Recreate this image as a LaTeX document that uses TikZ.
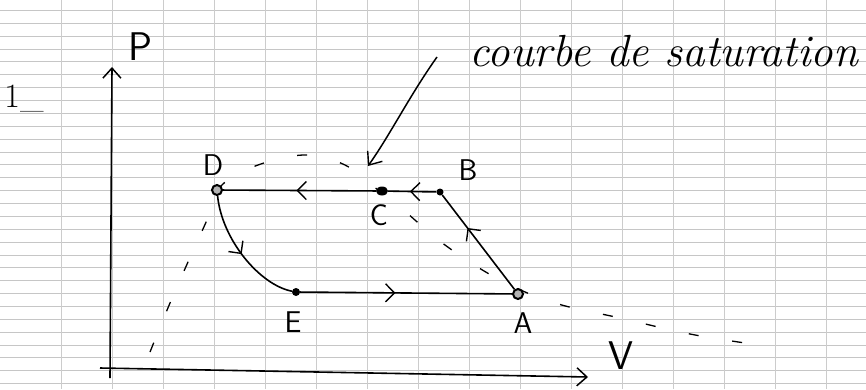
\documentclass[tikz,border=0pt]{standalone}
\usetikzlibrary{arrows.meta,decorations.markings,shapes.geometric}
\begin{document}
\begin{tikzpicture}[x=1pt,y=-1pt,
  gridv/.style={gray!40,line width=0.8pt},
  gridh/.style={gray!45,line width=1pt},
  axis/.style={line width=1.6pt,-{Straight Barb[length=10pt,width=18pt,line width=1.5pt]}},
  cyc/.style={line width=1.6pt},
  midarrow/.style={postaction=decorate,decoration={markings,mark=at position #1 with {\arrow{Straight Barb[length=9pt,width=18pt,line width=1.4pt]}}}},
  sat/.style={line width=1.3pt,dash pattern=on 10pt off 34pt},
  annarrow/.style={line width=1.5pt,-{Straight Barb[length=11pt,width=18pt,line width=1.4pt]}},
  ptsmall/.style={circle,fill=black,inner sep=0pt,minimum size=7pt},
  ptring/.style={circle,draw=black,fill=gray!60,line width=2pt,inner sep=0pt,minimum size=10pt},
  ptbig/.style={ellipse,fill=black,inner sep=0pt,minimum width=12pt,minimum height=9pt},
  lab/.style={font=\fontsize{30}{30}\selectfont\sffamily},
  axlab/.style={font=\fontsize{40}{40}\selectfont\sffamily},
]
\useasboundingbox (0,0) rectangle (866,389);
\fill[white] (0,0) rectangle (866,389);
% graph paper
\foreach \k in {0,...,29} \draw[gridh] (0,{10.5+12.87*\k}) -- (866,{10.5+12.87*\k});
\foreach \k in {0,...,15} \draw[gridv] ({61+51*\k},0) -- ({61+51*\k},389);

% axes
\coordinate (yorig) at (110,378);
\coordinate (ytop) at (112,67);
\coordinate (xorig) at (100,368);
\coordinate (xtip) at (588,377);
\draw[axis] (yorig) -- (ytop);
\draw[axis] (xorig) -- (xtip);
\node[axlab] (Plab) at (140,47) {P};
\node[axlab] (Vlab) at (621,356) {V};
\node[font=\fontsize{34}{34}\selectfont] (num) at (24,99) {1\_};

% saturation curve
\draw[sat] plot[smooth,tension=0.6] coordinates {(150,352) (170,303) (188,262) (207,220) (222,185) (258,165) (305,155) (345,165) (378,190) (400,207) (445,245) (500,280) (555,303) (620,318) (690,334) (752,344)};

% points
\node[ptring] (D) at (217,190) {};
\node[ptbig] (C) at (382,191) {};
\node[ptsmall] (B) at (440,192) {};
\node[ptsmall,minimum size=8pt] (E) at (296,292) {};
\node[ptring] (A) at (518,294) {};

\node[lab] (Dlab) at (213,165) {D};
\node[lab] (Clab) at (379,215) {C};
\node[lab] (Blab) at (468,170) {B};
\node[lab] (Elab) at (293,322) {E};
\node[lab] (Alab) at (523,323) {A};

% cycle
\draw[cyc,midarrow=0.55] (B) -- (C);
\draw[cyc,midarrow=0.52] (C) -- (D);
\draw[cyc,midarrow=0.5] (D) .. controls (222,240) and (260,285) .. (E);
\draw[cyc,midarrow=0.45] (E) -- (A);
\draw[cyc,midarrow=0.65] (A) -- (B);

% annotation
\node[anchor=base west,font=\fontsize{45}{45}\selectfont\itshape] (satlab) at (466,66) {courbe de saturation};
\coordinate (annstart) at (437,57);
\coordinate (annend) at (368,166);
\draw[annarrow] (annstart) .. controls (410,95) and (390,135) .. (annend);
\end{tikzpicture}
\end{document}
